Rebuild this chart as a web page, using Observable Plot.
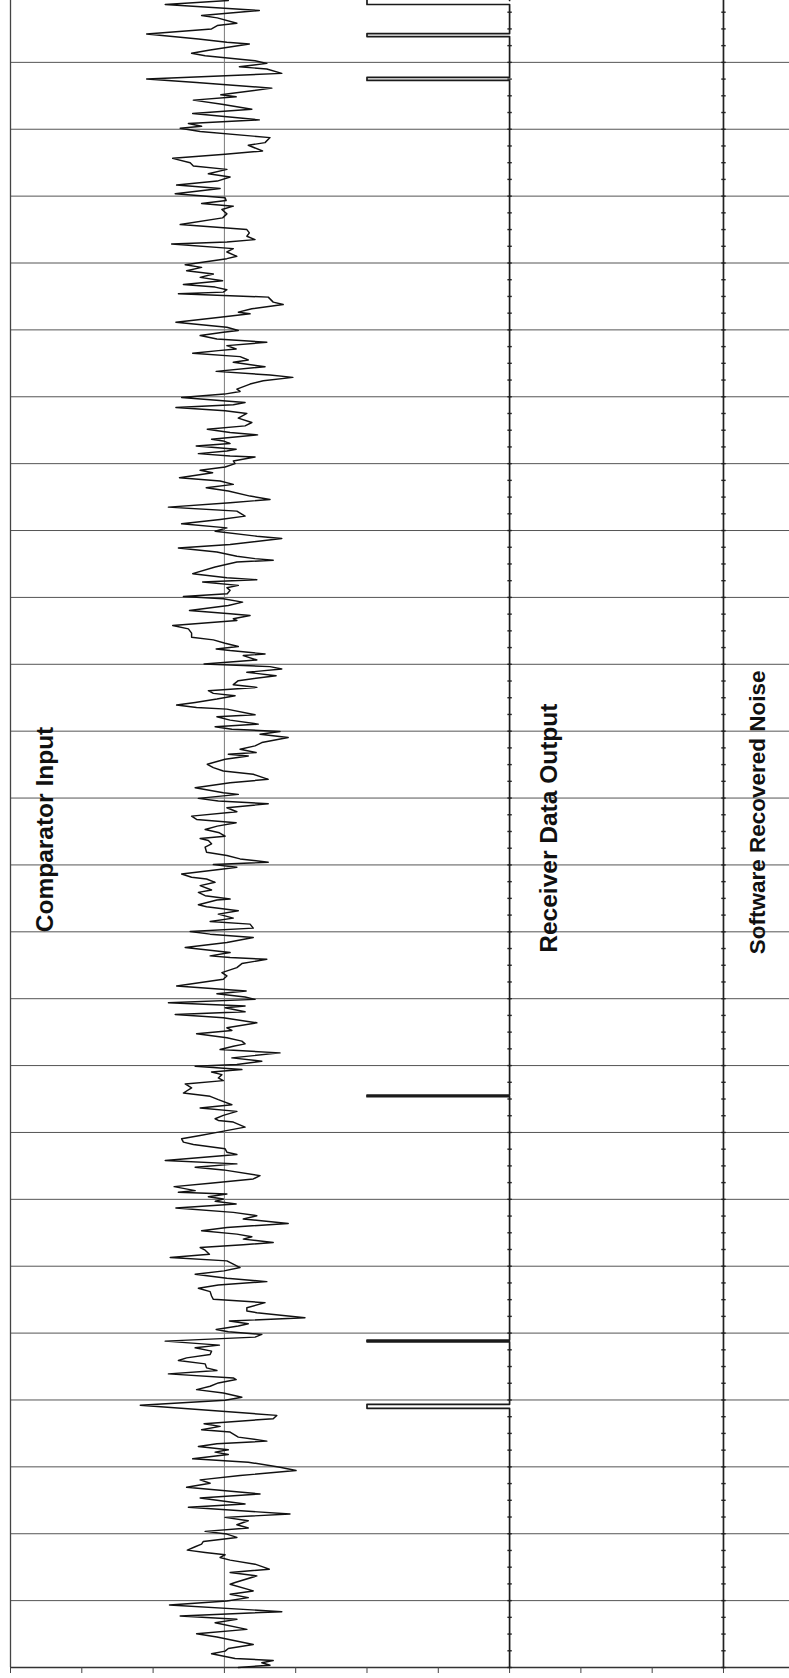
<!DOCTYPE html>
<html><head><meta charset="utf-8">
<script src="https://cdn.jsdelivr.net/npm/d3@7"></script>
<script src="https://cdn.jsdelivr.net/npm/@observablehq/plot@0.6"></script>
<style>html,body{margin:0;padding:0;background:#fff;} #chart svg{display:block;}</style>
</head><body><div id="chart"></div>
<script>
// time in microseconds (200 µs per grid division), comparator in mV (200 mV per division)
const gridTimes = [0,200,400,600,800,1000,1200,1400,1600,1800,2000,2200,2400,2600,2800,3000,3200,3400,3600,3800,4000,4200,4400,4600,4800];
const divisionTicks = [-3,-2,-1,0,1,2,3,4,5,6,7];
const comparatorInput = [
[4985,11],[4973,-166],[4955,98],[4940,-64],[4933,-20],[4917,35],[4910,-20],[4900,-36],[4885,-218],[4870,-73],[4860,7],[4855,70],[4837,-40],[4827,-92],[4820,-54],[4805,86],[4797,119],[4787,42],[4780,119],[4767,161],[4750,-218],[4740,-78],[4723,133],[4703,-10],[4697,33],[4687,-87],[4675,-7],[4660,77],[4647,-89],[4628,98],[4617,-101],[4609,-64],[4603,-124],[4593,-68],[4575,128],[4560,114],[4552,67],[4535,107],[4525,2],[4513,-145],[4500,-96],[4490,-87],[4480,7],[4467,-45],[4457,16],[4445,-20],[4433,-134],[4423,-12],[4407,-138],[4395,2],[4387,5],[4378,-64],[4370,25],[4360,-7],[4347,7],[4335,-5],[4315,-124],[4300,63],[4290,70],[4280,63],[4270,86],[4263,7],[4257,-148],[4243,25],[4233,7],[4220,35],[4213,7],[4195,-110],[4187,-64],[4177,-106],[4167,-31],[4157,-68],[4147,-5],
[4136,-115],[4128,-26],[4120,7],[4113,-3],[4108,-129],[4098,123],[4083,137],[4076,165],[4063,77],[4053,39],[4048,72],[4038,-12],[4023,-136],[4008,7],[3998,39],[3993,-3],[3983,-68],[3973,-21],[3963,119],[3953,7],[3943,33],[3938,-17],[3930,-89],[3920,44],[3910,67],[3903,25],[3890,114],[3876,-23],[3865,128],[3858,192],[3848,109],[3838,72],[3823,35],[3816,44],[3808,0],[3798,-120],[3783,58],[3776,25],[3768,-136],[3758,2],[3750,63],[3736,39],[3723,77],[3713,58],[3703,-48],[3693,16],[3686,93],[3673,-36],[3668,-3],[3660,16],[3653,-79],[3643,33],[3638,7],[3630,-73],[3623,16],[3620,86],[3608,25],[3600,30],[3590,2],[3580,-68],[3573,-33],[3558,-126],[3548,-12],[3538,25],[3528,-51],[3518,11],[3503,72],[3493,128],[3483,16],[3470,-157],[3458,35],[3443,58],[3433,-12],[3420,-120],[3408,7],[3398,-26],[3383,91],[3376,161],[3358,16],[3348,-129],[3336,-21],[3323,35],[3316,86],
[3311,137],[3306,35],[3291,-26],[3271,-89],[3259,7],[3253,91],[3246,-61],[3236,39],[3229,7],[3221,16],[3211,8],[3203,-115],[3196,-3],[3186,51],[3176,11],[3161,-98],[3151,16],[3146,72],[3136,25],[3131,35],[3116,-145],[3106,-101],[3093,-92],[3081,-92],[3073,-31],[3063,2],[3053,39],[3046,-23],[3041,16],[3031,114],[3026,53],[3013,91],[3006,7],[3001,-57],[2993,128],[2986,161],[2976,63],[2966,145],[2951,39],[2939,25],[2931,91],[2921,-45],[2913,-31],[2906,30],[2896,-21],[2886,-82],[2878,-134],[2871,-78],[2866,7],[2849,86],[2843,-21],[2833,16],[2821,95],[2813,-26],[2806,21],[2799,156],[2791,100],[2781,179],[2766,105],[2756,86],[2746,44],[2736,89],[2731,11],[2726,67],[2716,2],[2701,-48],[2691,-31],[2681,-3],[2671,81],[2656,123],[2646,16],[2631,-82],[2616,-3],[2611,39],[2599,-73],[2591,-17],[2583,123],[2571,7],[2559,35],[2546,-92],[2536,-78],[2526,33],[2516,-20],[2506,-54],[2496,-14],[2486,2],[2479,-68],
[2473,-45],[2463,-36],[2453,-54],[2438,-50],[2428,7],[2418,44],[2408,123],[2401,-31],[2393,35],[2388,-3],[2373,-120],[2363,-92],[2358,-50],[2348,-26],[2338,-68],[2325,-36],[2318,-73],[2308,-54],[2298,16],[2295,-21],[2281,-73],[2275,-50],[2263,39],[2253,-17],[2241,25],[2231,-40],[2223,72],[2211,81],[2201,-96],[2193,-40],[2183,81],[2168,7],[2153,-110],[2138,16],[2128,-40],[2123,16],[2118,119],[2105,49],[2093,35],[2078,-7],[2068,7],[2058,-3],[2038,-134],[2023,61],[2015,-21],[2005,58],[1998,86],[1988,-157],[1978,58],[1973,2],[1961,58],[1953,-138],[1943,-3],[1928,91],[1913,7],[1905,21],[1895,-78],[1883,7],[1873,49],[1865,58],[1858,25],[1848,-12],[1838,156],[1823,21],[1813,105],[1803,35],[1798,-82],[1788,49],[1781,-36],[1773,-7],[1763,-17],[1755,-3],[1745,-110],[1733,-92],[1718,-115],[1708,-40],[1698,-17],[1683,21],[1673,-68],[1663,35],[1651,-3],[1641,-26],
[1636,-17],[1631,25],[1616,58],[1601,-17],[1591,-68],[1581,-120],[1571,-115],[1564,-87],[1551,2],[1541,7],[1534,35],[1516,-166],[1506,35],[1496,-82],[1488,-3],[1471,100],[1461,81],[1448,-40],[1438,-141],[1426,-82],[1421,-129],[1416,7],[1408,-45],[1401,-3],[1394,-26],[1386,33],[1374,-136],[1361,25],[1351,91],[1341,53],[1328,179],[1316,7],[1306,-64],[1296,35],[1288,77],[1281,53],[1271,137],[1264,53],[1256,-68],[1248,-54],[1236,-42],[1226,-152],[1216,7],[1206,25],[1196,44],[1186,-1],[1176,-82],[1164,7],[1154,119],[1144,-17],[1134,-73],[1124,-40],[1111,-36],[1101,-31],[1091,114],[1076,63],[1066,63],[1061,91],[1046,226],[1036,14],[1028,67],[1021,39],[1011,-23],[1004,11],[996,105],[988,86],[976,-166],[964,-14],[956,-82],[946,-36],[936,-40],[926,-106],[918,-129],[908,-54],[896,-50],[888,-21],[878,-157],[866,25],[861,33],[851,-17],[841,-40],[831,-78],[821,-3],[808,49],
[799,2],[784,-236],[754,147],[744,137],[729,-57],[721,-12],[711,-64],[704,16],[689,39],[677,119],[669,-21],[661,-73],[651,11],[644,-26],[637,11],[624,-89],[614,67],[599,156],[589,201],[574,44],[561,-68],[551,-40],[539,-106],[519,100],[507,-68],[489,58],[479,-101],[459,184],[449,2],[439,67],[427,35],[417,67],[407,-54],[399,7],[389,35],[377,-59],[369,-64],[361,-82],[351,-104],[344,-54],[337,2],[329,-12],[321,16],[309,86],[294,126],[284,16],[274,91],[254,30],[249,16],[229,81],[219,16],[209,67],[199,7],[187,-154],[167,161],[154,-124],[144,35],[134,-26],[114,63],[101,-78],[91,-21],[69,81],[57,11],[49,2],[41,-36],[27,30],[21,137],[14,105],[7,128],[0,39]
];
// receiver data output: pulses (start, end) in µs, low = 0 V, high = 5 V
const receiverPulses = [[775,787],[974,979],[1707,1712],[4746,4755],[4877,4886],[4973,4990]];
const receiverLow = 0, receiverHigh = 5;
// software recovered noise: flat
const softwareNoise = [[0,0],[4985,0]];
const sampleTimes = d3.range(0, 4985, 50);
const channelNames = ["Comparator Input", "Receiver Data Output", "Software Recovered Noise"];

// channel layout in screen divisions
const compOffset = 0, compMvPerDiv = 200;
const recvOffset = 4, recvVoltsPerDiv = 2.5;
const softOffset = 7;

const receiverSeries = [[0, receiverLow]];
for (const [s, e] of receiverPulses) {
  receiverSeries.push([s, receiverLow], [s, receiverHigh], [e, receiverHigh], [e, receiverLow]);
}
receiverSeries.push([4985, receiverLow]);

const dash = {draw(ctx) { ctx.moveTo(-2.2, 0); ctx.lineTo(2.2, 0); }};

const fontFamily = "'Liberation Sans', Arial, Helvetica, sans-serif";

const chart = Plot.plot({
  width: 789,
  height: 1678,
  marginLeft: 10,
  marginRight: 0,
  marginTop: 0,
  marginBottom: 11,
  x: {domain: [-3, 7.926], axis: null},
  y: {domain: [0, 4985], axis: null},
  style: {background: "white", fontFamily},
  marks: [
    Plot.ruleY(gridTimes, {stroke: "#555", strokeWidth: 1}),
    Plot.ruleX([compOffset], {stroke: "#7a7a7a", strokeWidth: 1}),
    Plot.ruleX([-3], {stroke: "#444", strokeWidth: 1.3}),
    Plot.ruleY([0], {stroke: "#333", strokeWidth: 1.3}),
    Plot.axisX({ticks: divisionTicks, tickSize: 6, tickFormat: () => "", stroke: "#444"}),
    Plot.line(softwareNoise, {x: d => softOffset + d[1], y: d => d[0], stroke: "#222", strokeWidth: 1.7}),
    Plot.line(receiverSeries, {x: d => recvOffset - d[1] / recvVoltsPerDiv, y: d => d[0], stroke: "#1a1a1a", strokeWidth: 1.7}),
    Plot.dot(sampleTimes, {x: recvOffset, y: d => d, symbol: dash, r: 2, stroke: "#222", strokeWidth: 1.4, fill: "none"}),
    Plot.dot(sampleTimes, {x: softOffset, y: d => d, symbol: dash, r: 2, stroke: "#222", strokeWidth: 1.4, fill: "none"}),
    Plot.line(comparatorInput, {x: d => compOffset + d[1] / compMvPerDiv, y: d => d[0], stroke: "#111", strokeWidth: 1.45, curve: "linear"}),
    Plot.text([channelNames[0]], {x: -2.52, y: 2506, text: d => d, rotate: -90, fontSize: 24.5, fontWeight: "bold", fill: "#111", textAnchor: "middle", lineAnchor: "middle"}),
    Plot.text([channelNames[1]], {x: 4.56, y: 2510, text: d => d, rotate: -90, fontSize: 24.5, fontWeight: "bold", fill: "#111", textAnchor: "middle", lineAnchor: "middle"}),
    Plot.text([channelNames[2]], {x: 7.48, y: 2557, text: d => d, rotate: -90, fontSize: 22.5, fontWeight: "bold", fill: "#111", textAnchor: "middle", lineAnchor: "middle"})
  ]
});
document.getElementById("chart").appendChild(chart);
</script></body></html>
